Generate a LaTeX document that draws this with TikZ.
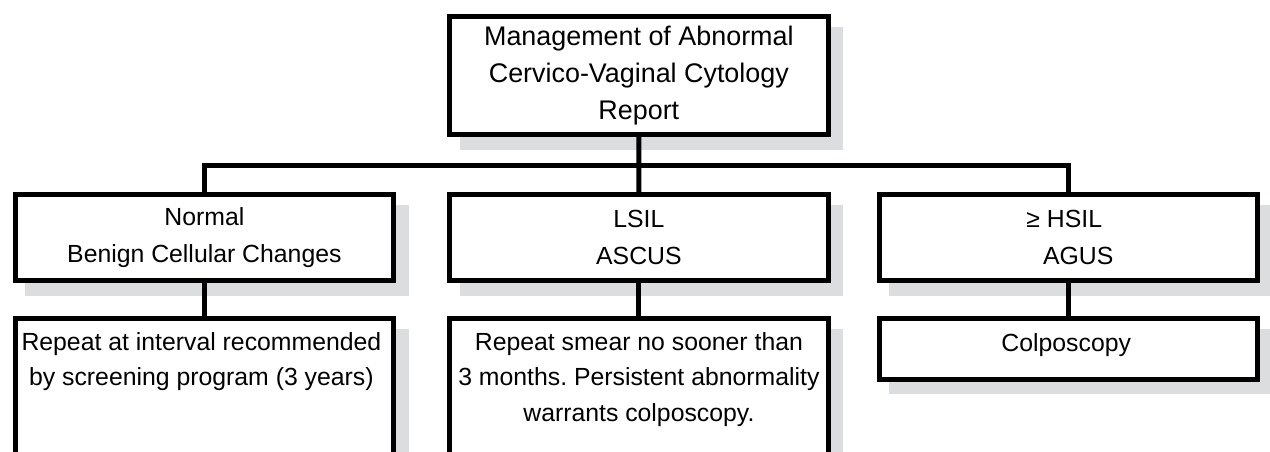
\documentclass[tikz,border=0pt]{standalone}
\usepackage{fontspec}
\setmainfont{Liberation Sans}
\usetikzlibrary{backgrounds,calc}
\definecolor{shadowc}{RGB}{220,221,223}
\frenchspacing
\tikzset{
  box/.style={draw=black, line width=5pt, fill=white, rectangle, minimum width=378.3pt, inner sep=0pt, align=center, text=black},
  topfont/.style={font=\fontsize{26.9}{37.2}\selectfont},
  midfont/.style={font=\fontsize{24.8}{37}\selectfont},
  lowfont/.style={font=\fontsize{24.8}{35.5}\selectfont},
  conn/.style={draw=black, line width=5pt},
  lbl/.style={inner sep=0pt, align=center, anchor=north, text=black},
  shadowbox/.style={fill=shadowc}
}
\newcommand{\myboxshadow}[1]{\fill[shadowbox] ($(#1.north west)+(12.5,12.5)$) rectangle ($(#1.south east)+(12.5,12.5)$);}
\begin{document}
\begin{tikzpicture}[x=1pt,y=-1pt]
\useasboundingbox (0,0) rectangle (1270,451);
\begin{scope}
\clip (0,0) rectangle (1270,451);
\node[box, topfont, minimum height=117.8pt] (top) at (638.85,75.6) {Management of Abnormal\\Cervico-Vaginal Cytology\\Report};
\node[box, midfont, minimum height=85.8pt] (m1) at (204.4,237.6) {Normal\\Benign Cellular Changes};
\node[box, midfont, minimum height=85.8pt] (m2) at (638.9,237.6) {LSIL\\ASCUS};
\node[box, midfont, minimum height=85.8pt] (m3) at (1068.25,237.6) {≥ HSIL\hspace*{8pt}\\\hspace*{20pt}AGUS};
\node[box, minimum height=161.5pt] (b1) at (204.4,399.25) {};
\node[box, minimum height=161.5pt] (b2) at (638.9,399.25) {};
\node[box, minimum height=60.5pt] (b3) at (1068.25,348.75) {};
\node[lbl, lowfont] (t1) at ($(b1.north)+(-3,16)$) {Repeat at interval recommended\\by screening program (3 years)};
\node[lbl, lowfont] (t2) at ($(b2.north)+(0,16)$) {Repeat smear no sooner than\\3 months. Persistent abnormality\\warrants colposcopy.};
\node[lbl, lowfont] (t3) at ($(b3.north)+(-2,17)$) {Colposcopy};
\begin{scope}[on background layer]
  \myboxshadow{top}
  \myboxshadow{m1}
  \myboxshadow{m2}
  \myboxshadow{m3}
  \myboxshadow{b1}
  \myboxshadow{b2}
  \myboxshadow{b3}
\end{scope}
\coordinate (bus) at (639,165.8);
\draw[conn] (top.south) -- (m2.north);
\draw[conn] (m1.north) -- (m1.north |- bus) -- (m3.north |- bus) -- (m3.north);
\draw[conn] (m1.south) -- (b1.north);
\draw[conn] (m2.south) -- (b2.north);
\draw[conn] (m3.south) -- (b3.north);
\end{scope}
\end{tikzpicture}
\end{document}
